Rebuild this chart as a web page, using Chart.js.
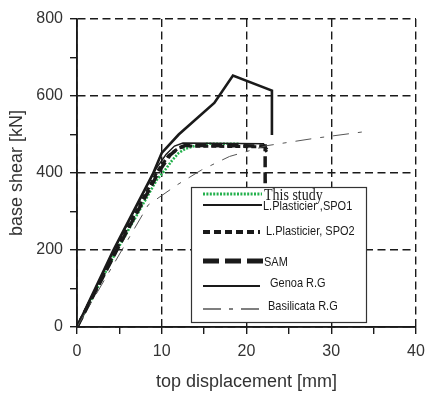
<!DOCTYPE html>
<html>
<head>
<meta charset="utf-8">
<script src="https://cdn.jsdelivr.net/npm/chart.js@4/dist/chart.umd.min.js"></script>
<style>
    html, body { margin: 0; padding: 0; background: #fff; }
    #wrap { width: 425px; height: 395px; position: relative; }
</style>
</head>
<body>
<div id="wrap"><canvas id="pushoverChart"></canvas></div>
<script>
// pushover curves, top displacement [mm] vs base shear [kN]
const xTicks = [0, 10, 20, 30, 40];
const yTicks = [0, 200, 400, 600, 800];

const seriesNames = ['This study', 'L.Plasticier ,SPO1', 'L.Plasticier, SPO2', 'SAM', 'Genoa R.G', 'Basilicata R.G'];

const studyX = [0, 4.6, 9.4, 10.3, 11.2, 12.0, 12.8, 14.0, 15.3, 19.2];
const studyY = [0, 195, 382, 405, 432, 452, 463, 471, 476, 476];

const spo1X = [0, 4.4, 9.3, 10.5, 11.5, 12.5, 22.0, 22.5];
const spo1Y = [0, 200, 410, 448, 470, 478, 476, 462];

const spo2X = [0, 4.6, 9.5, 10.8, 12.0, 13.0, 22.0, 22.4];
const spo2Y = [0, 200, 405, 445, 465, 470, 468, 455];

const samX = [0, 4.7, 9.7, 11.0, 12.0, 12.8, 22.2, 22.2, 22.9];
const samY = [0, 200, 405, 447, 465, 472, 470, 378, 378];

const genoaX = [0, 4.3, 9.0, 10.0, 12.0, 16.2, 18.4, 23.0, 23.0];
const genoaY = [0, 200, 400, 452, 500, 582, 653, 614, 499];

const basilX = [0, 8.4, 11.8, 14.7, 18.0, 22.4, 28.0, 34.5];
const basilY = [0, 317, 369, 408, 443, 471, 490, 509];

function pts(xs, ys) {
    return xs.map((x, i) => ({ x: x, y: ys[i] }));
}

const styles = [
    { color: '#22b04b', width: 2.6, dash: [2, 1.4] },
    { color: '#1a1a1a', width: 1.4, dash: [] },
    { color: '#1a1a1a', width: 3, dash: [5, 3] },
    { color: '#1a1a1a', width: 3.5, dash: [11, 5] },
    { color: '#1a1a1a', width: 2.6, dash: [] },
    { color: '#555555', width: 1, dash: [16, 9, 4, 9] }
];

const seriesData = [
    pts(studyX, studyY),
    pts(spo1X, spo1Y),
    pts(spo2X, spo2Y),
    pts(samX, samY),
    pts(genoaX, genoaY),
    pts(basilX, basilY)
];

// draw order: green on top like the reference
const order = [5, 4, 1, 2, 3, 0];

const datasets = order.map(i => ({
    label: seriesNames[i],
    data: seriesData[i],
    borderColor: styles[i].color,
    borderWidth: styles[i].width,
    borderDash: styles[i].dash,
    pointRadius: 0,
    tension: 0,
    fill: false
}));

// boxed legend inside the plot, drawn by hand
const legendBox = {
    id: 'legendBox',
    afterDatasetsDraw(chart) {
        const c = chart.ctx;
        c.save();
        c.fillStyle = '#fff';
        c.fillRect(191, 187, 175, 135);
        c.strokeStyle = '#333';
        c.lineWidth = 1.2;
        c.strokeRect(191.5, 187.5, 175, 135);

        const rows = [
            { y: 194, x2: 262, tx: 264, ty: 196 },
            { y: 205, x2: 262, tx: 263, ty: 206 },
            { y: 232, x2: 260, tx: 266, ty: 231 },
            { y: 261, x2: 263, tx: 264, ty: 262 },
            { y: 286, x2: 260, tx: 270, ty: 283 },
            { y: 309, x2: 261, tx: 268, ty: 306 }
        ];
        rows.forEach((r, i) => {
            const s = styles[i];
            c.beginPath();
            c.strokeStyle = s.color;
            c.lineWidth = i === 2 ? 4 : (i === 3 ? 5 : (i === 1 || i === 4 ? 2.2 : s.width + 0.4));
            if (i === 2) c.setLineDash([7, 4]);
            else if (i === 3) c.setLineDash([16, 6]);
            else if (i === 5) c.setLineDash([18, 8, 4, 8]);
            else c.setLineDash(s.dash);
            c.moveTo(203, r.y);
            c.lineTo(r.x2, r.y);
            c.stroke();
            c.setLineDash([]);

            c.save();
            c.translate(r.tx, r.ty);
            c.scale(1, 1.2);
            c.fillStyle = '#1a1a1a';
            c.textBaseline = 'middle';
            if (i === 0) {
                c.font = '14px "Liberation Serif"';
            } else {
                c.font = '11px "Liberation Sans Narrow", "Liberation Sans"';
            }
            c.fillText(seriesNames[i], 0, 0);
            c.restore();
        });
        c.restore();
    }
};

const ctx = document.getElementById('pushoverChart').getContext('2d');

const gridColor = (step) => (context) =>
    context.tick && context.tick.value % step === 0 ? '#1a1a1a' : 'rgba(0,0,0,0)';

new Chart(ctx, {
    type: 'line',
    data: { datasets: datasets },
    options: {
        responsive: true,
        maintainAspectRatio: false,
        animation: false,
        layout: { padding: { top: 19, right: 9, left: 0, bottom: 0 } },
        plugins: {
            legend: { display: false },
            tooltip: { enabled: false }
        },
        scales: {
            x: {
                type: 'linear',
                min: 0,
                max: 40,
                afterFit(scale) {
                    scale.height = 68;
                    scale.paddingRight = 0;
                    scale.paddingLeft = 0;
                },
                ticks: {
                    stepSize: 5,
                    autoSkip: false,
                    maxRotation: 0,
                    padding: 8,
                    color: '#333',
                    font: { family: '"Liberation Sans", Arial', size: 16 },
                    callback: v => xTicks.includes(v) ? v : ''
                },
                grid: {
                    color: gridColor(10),
                    tickColor: '#1a1a1a',
                    lineWidth: 1.4,
                    tickLength: 7,
                    borderDash: [8, 4]
                },
                border: { display: true, color: '#1a1a1a', width: 1.5, dash: [8, 4.5] },
                title: {
                    display: true,
                    text: 'top displacement [mm]',
                    color: '#333',
                    font: { family: '"Liberation Sans", Arial', size: 18 },
                    padding: { top: 0, bottom: 2 }
                }
            },
            y: {
                min: 0,
                max: 800,
                afterFit(scale) {
                    scale.width = 77;
                    scale.paddingTop = 0;
                    scale.paddingBottom = 0;
                },
                ticks: {
                    stepSize: 100,
                    autoSkip: false,
                    padding: 7,
                    color: '#333',
                    font: { family: '"Liberation Sans", Arial', size: 16 },
                    callback: v => yTicks.includes(v) ? v : ''
                },
                grid: {
                    color: gridColor(200),
                    tickColor: '#1a1a1a',
                    lineWidth: 1.4,
                    tickLength: 7,
                    borderDash: [8, 4]
                },
                border: { display: true, color: '#1a1a1a', width: 1.5, dash: [8, 4.5] },
                title: {
                    display: true,
                    text: 'base shear [kN]',
                    color: '#333',
                    font: { family: '"Liberation Sans", Arial', size: 18 },
                    padding: { top: 6, bottom: 0 }
                }
            }
        }
    },
    plugins: [legendBox, {
        // solid left/bottom axis lines over the dashed grid
        id: 'solidAxes',
        afterDraw(chart) {
            const a = chart.chartArea;
            const c = chart.ctx;
            c.save();
            c.strokeStyle = '#1a1a1a';
            c.lineWidth = 1.5;
            c.setLineDash([]);
            c.beginPath();
            c.moveTo(a.left, a.top);
            c.lineTo(a.left, a.bottom);
            c.lineTo(a.right, a.bottom);
            c.stroke();
            c.restore();
        }
    }]
});
</script>
</body>
</html>
